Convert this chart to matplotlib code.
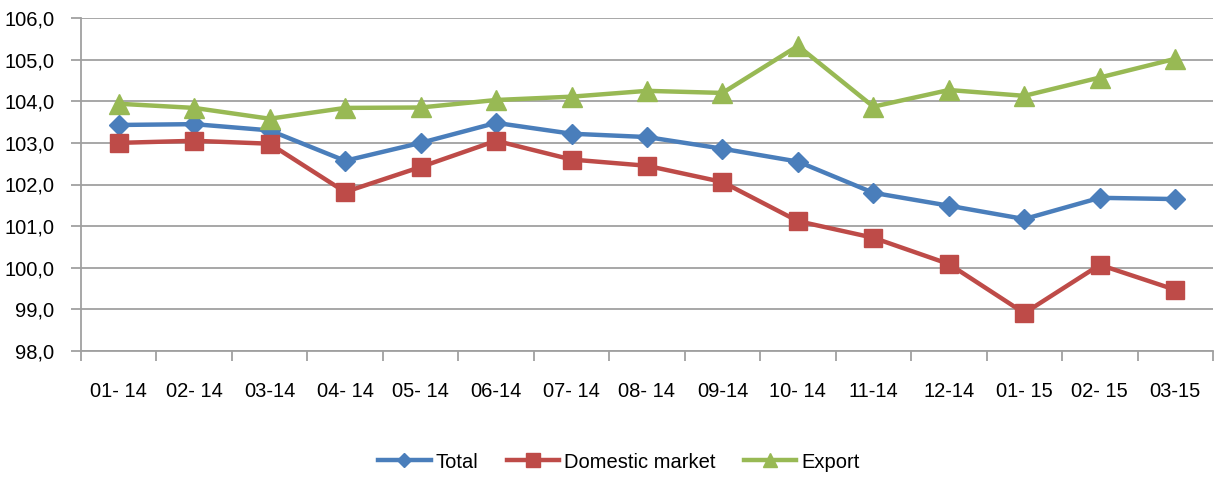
import matplotlib
matplotlib.use("Agg")
import matplotlib.pyplot as plt
from matplotlib.ticker import FuncFormatter, FixedLocator

categories = ["01- 14", "02- 14", "03-14", "04- 14", "05- 14", "06-14", "07- 14",
              "08- 14", "09-14", "10- 14", "11-14", "12-14", "01- 15", "02- 15", "03-15"]
total = [103.43, 103.45, 103.30, 102.57, 103.00, 103.48, 103.22, 103.14, 102.86,
         102.55, 101.80, 101.49, 101.17, 101.68, 101.65]
domestic = [103.00, 103.05, 102.98, 101.82, 102.42, 103.05, 102.60, 102.45, 102.06,
            101.12, 100.72, 100.09, 98.91, 100.07, 99.47]
export = [103.94, 103.84, 103.58, 103.84, 103.85, 104.03, 104.11, 104.25, 104.20,
          105.33, 103.87, 104.27, 104.13, 104.57, 105.02]

plt.rcParams['font.family'] = ['Liberation Sans', 'DejaVu Sans']
fs = 14.5

fig = plt.figure(figsize=(12.17, 4.8), dpi=100)
ax = fig.add_axes([81/1217, 1-351/480, (1213-81)/1217, (351-18)/480])

x = list(range(len(categories)))
ax.plot(x, total, color='#4A7EBB', lw=3.2, marker='D', ms=10, label='Total', zorder=3)
ax.plot(x, domestic, color='#BE4B48', lw=3.2, marker='s', ms=13, label='Domestic market', zorder=3)
ax.plot(x, export, color='#98B954', lw=3.2, marker='^', ms=14, label='Export', zorder=3)

ax.set_xlim(-0.5, len(categories) - 0.5)
ax.set_ylim(98, 106)
ax.set_yticks([98, 99, 100, 101, 102, 103, 104, 105, 106])
ax.yaxis.set_major_formatter(FuncFormatter(lambda v, p: f"{v:.1f}".replace('.', ',')))
ax.grid(axis='y', color='#A0A0A0', lw=1.3)
ax.set_axisbelow(True)

ax.set_xticks(x)
ax.set_xticklabels(categories)
ax.xaxis.set_minor_locator(FixedLocator([i - 0.5 for i in range(len(categories) + 1)]))
ax.tick_params(axis='x', which='major', length=0, pad=22, labelsize=fs)
ax.tick_params(axis='x', which='minor', length=7, width=1.3, color='#A0A0A0', direction='out')
ax.tick_params(axis='y', length=7, width=1.3, color='#A0A0A0', direction='out', pad=12, labelsize=fs)

for s in ['top', 'right']:
    ax.spines[s].set_visible(False)
for s in ['left', 'bottom']:
    ax.spines[s].set_color('#A0A0A0')
    ax.spines[s].set_linewidth(1.3)

fig.legend(loc='center', bbox_to_anchor=(0.5085, 1-462/480), ncol=3, frameon=False,
           fontsize=fs, handlelength=2.6, columnspacing=1.4, handletextpad=0.25,
           markerscale=0.75)

fig.savefig('out.png', dpi=100)
